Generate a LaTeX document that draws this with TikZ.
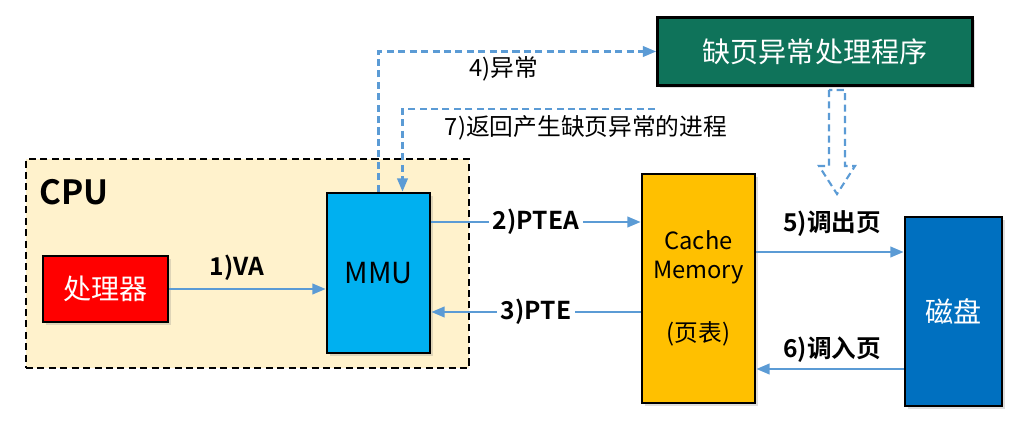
\documentclass[tikz,border=0pt]{standalone}
\usepackage{fontspec}
\setmainfont{Noto Sans CJK SC}[BoldFont={Noto Sans CJK SC Bold}]
\usepackage{tikz}
\usetikzlibrary{arrows.meta,shadows}
\definecolor{cpubg}{HTML}{FFF2CC}
\definecolor{flow}{HTML}{5B9BD5}
\definecolor{procred}{HTML}{FF0000}
\definecolor{mmublue}{HTML}{00B0F0}
\definecolor{cachegold}{HTML}{FFC000}
\definecolor{diskblue}{HTML}{0070C0}
\definecolor{handlergreen}{HTML}{0F735A}

\begin{document}
\begin{tikzpicture}[x=0.02cm,y=-0.02cm,
    unit/.style={draw=black,line width=1.6pt,inner sep=0pt,align=center,
      drop shadow={opacity=0.25,shadow xshift=1.5pt,shadow yshift=-1.5pt}},
    flowline/.style={flow,line width=1.2pt,-{Triangle[length=7.5pt,width=6pt]}},
    dashflow/.style={flowline,dash pattern=on 4pt off 2.5pt},
    steplabel/.style={font=\bfseries\fontsize{14}{16}\selectfont,text=black,inner sep=2pt},
    notelabel/.style={font=\fontsize{13.5}{16}\selectfont,text=black}]
    \useasboundingbox (0,0) rectangle (1035,438);
    % CPU frame
    \node[draw=black,line width=0.9pt,dash pattern=on 4pt off 2.5pt,fill=cpubg,
      minimum width=8.86cm,minimum height=4.18cm] (cpu) at (247.5,263.5) {};
    \node[font=\bfseries\fontsize{19}{21}\selectfont] (cpulabel) at (74,192) {CPU};
    % units
    \node[unit,fill=procred,text=white,font=\fontsize{16}{19}\selectfont,
      minimum width=2.5cm,minimum height=1.32cm] (proc) at (105.5,289) {处理器};
    \node[unit,fill=mmublue,font=\fontsize{16.5}{19}\selectfont,
      minimum width=2.06cm,minimum height=3.2cm] (mmu) at (378.5,273) {MMU};
    \node[unit,fill=cachegold,font=\fontsize{13.5}{16}\selectfont,
      minimum width=2.26cm,minimum height=4.58cm] (cache) at (698.5,288.5) {Cache\\Memory\\[20pt](页表)};
    \node[unit,fill=diskblue,text=white,font=\fontsize{16}{19}\selectfont,
      minimum width=1.94cm,minimum height=3.78cm] (disk) at (953.5,311.5) {磁盘};
    \node[unit,fill=handlergreen,text=white,font=\fontsize{16}{19}\selectfont,
      minimum width=6.3cm,minimum height=1.36cm] (handler) at (815,51.5) {缺页异常处理程序};
    % levels of the arrows
    \coordinate (lvl2) at (0,222);
    \coordinate (lvl3) at (0,312);
    \coordinate (lvl5) at (0,252);
    \coordinate (lvl6) at (0,369);
    \coordinate (back) at (655,109);
    % solid arrows
    \draw[flowline] (proc.east) -- (mmu.west |- proc.east);
    \node[steplabel] (va) at (237,268) {1)VA};
    \draw[flowline] (mmu.east |- lvl2) -- node[steplabel,fill=white] (ptea) {2)PTEA} (cache.west |- lvl2);
    \draw[flowline] (cache.west |- lvl3) -- node[steplabel,fill=white] (pte) {3)PTE} (mmu.east |- lvl3);
    \draw[flowline] (cache.east |- lvl5) -- (disk.west |- lvl5);
    \node[steplabel] (pageout) at (832,224) {5)调出页};
    \draw[flowline] (disk.west |- lvl6) -- (cache.east |- lvl6);
    \node[steplabel] (pagein) at (832,350) {6)调入页};
    % dashed arrows
    \draw[dashflow] (mmu.north) |- (handler.west);
    \node[notelabel] (fault) at (504,69) {4)异常};
    \draw[dashflow] (back) -| ([xshift=0.48cm]mmu.north);
    \node[notelabel] (resume) at (586,128) {7)返回产生缺页异常的进程};
    % hollow arrow
    \draw[flow,line width=1.2pt,dash pattern=on 4pt off 2.5pt,fill=white]
      (829,90) -- (829,166) -- (819,166) -- (837,194) -- (855,166) -- (845,166) -- (845,90) -- cycle;
\end{tikzpicture}
\end{document}
